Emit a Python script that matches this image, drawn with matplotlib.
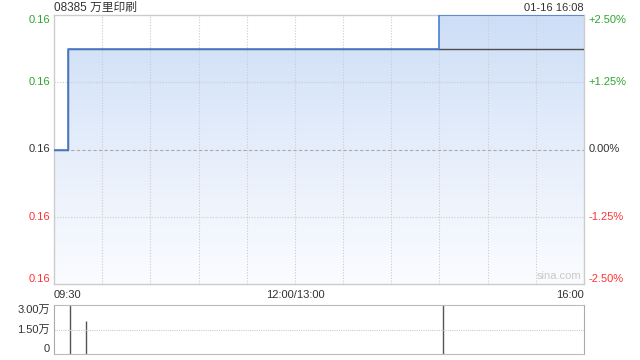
import numpy as np
import matplotlib
matplotlib.use("Agg")
import matplotlib.pyplot as plt
from matplotlib.colors import LinearSegmentedColormap

plt.rcParams['font.family'] = ['Liberation Sans', 'Noto Sans CJK SC', 'DejaVu Sans']

# data
title = "08385 万里印刷"
stamp = "01-16 16:08"
prev_close = 0.160
price_times = ["09:30", "09:39", "14:30", "16:00"]
prices = [0.160, 0.163, 0.164, 0.164]
avg_times = ["09:30", "09:39", "16:00"]
avg_prices = [0.160, 0.163, 0.163]
vol_times = ["09:40", "09:50", "14:32"]
volumes = [32000, 20000, 34000]
x_labels = ["09:30", "12:00/13:00", "16:00"]


def to_min(t):
    h, m = map(int, t.split(":"))
    v = h * 60 + m
    if v <= 12 * 60:
        return v - 570
    return v - 780 + 150


px = [to_min(t) for t in price_times]
ax_x = [to_min(t) for t in avg_times]
vx = [to_min(t) for t in vol_times]

ymin = prev_close * 0.975
ymax = prev_close * 1.025

fig = plt.figure(figsize=(6.4, 3.6), dpi=100)
ax = fig.add_axes([54/640, 1-284/360, 530/640, 269/360])
axv = fig.add_axes([54/640, 1-354/360, 530/640, 49/360])

# gradient fill under price line
poly = ax.fill_between(px, prices, ymin, step="post", facecolor="none", edgecolor="none")
cmap = LinearSegmentedColormap.from_list("blu", ["#fbfcff", "#e6eefb", "#cddef7"])
grad = np.linspace(0, 1, 256).reshape(-1, 1)
im = ax.imshow(grad, extent=[0, 330, ymin, ymax], origin="lower", aspect="auto",
               cmap=cmap, zorder=1)
im.set_clip_path(poly.get_paths()[0], ax.transData)

ax.plot(ax_x, avg_prices, drawstyle="steps-post", color="#4d4d4d", lw=1, zorder=3)
ax.plot(px, prices, drawstyle="steps-post", color="#4a7fd6", lw=1.2, zorder=4)

ax.set_xlim(0, 330)
ax.set_ylim(ymin, ymax)

# grids
for m in range(30, 330, 30):
    ax.axvline(m, color="#cccccc", lw=0.8, ls=(0, (1, 1.5)), zorder=2)
    axv.axvline(m, color="#ffffff", lw=0, zorder=0)
pct = [2.5, 1.25, 0.0, -1.25, -2.5]
levels = [prev_close * (1 + p / 100) for p in pct]
for p, lv in zip(pct, levels):
    if p in (1.25, -1.25):
        ax.axhline(lv, color="#cccccc", lw=0.8, ls=(0, (1, 1.5)), zorder=2)
    elif p == 0:
        ax.axhline(lv, color="#aaaaaa", lw=0.8, ls=(0, (3, 2)), zorder=2)

for s in ax.spines.values():
    s.set_color("#cccccc")
    s.set_linewidth(1)

ax.set_yticks(levels)
ax.set_yticklabels(["%.2f" % v for v in levels])
ax.tick_params(axis="y", length=0, labelsize=8, pad=3)
cols = ["#2ea52e", "#2ea52e", "#333333", "#ff3333", "#ff3333"]
vas = ["top", "center", "center", "center", "bottom"]
for lab, c, va in zip(ax.get_yticklabels(), cols, vas):
    lab.set_color(c)
    lab.set_verticalalignment(va)

ax2 = ax.twinx()
ax2.set_ylim(-2.5, 2.5)
ax2.set_yticks(pct)
ax2.set_yticklabels(["%+.2f%%" % p if p != 0 else "0.00%" for p in pct])
ax2.tick_params(axis="y", length=0, labelsize=8, pad=3)
for lab, c, va in zip(ax2.get_yticklabels(), cols, vas):
    lab.set_color(c)
    lab.set_verticalalignment(va)
for s in ax2.spines.values():
    s.set_visible(False)

ax.set_xticks([0, 150, 330])
ax.set_xticklabels(x_labels)
ax.tick_params(axis="x", length=0, labelsize=8, pad=4, colors="#333333")
for lab, ha in zip(ax.get_xticklabels(), ["left", "center", "right"]):
    lab.set_horizontalalignment(ha)

ax.text(0.995, 0.01, "sina.com", transform=ax.transAxes, ha="right", va="bottom",
        fontsize=8, color="#c8c8c8", zorder=5)

fig.text(54/640, 1-8/360, title, ha="left", va="center", fontsize=8.5, color="#333333")
fig.text(584/640, 1-8/360, stamp, ha="right", va="center", fontsize=8, color="#333333")

# volume panel
axv.vlines(vx, 0, volumes, color="#555555", lw=1)
axv.set_xlim(0, 330)
axv.set_ylim(0, 30000)
axv.axhline(15000, color="#cccccc", lw=0.8, ls=(0, (1, 1)))
axv.spines["top"].set_color("#bbbbbb")
axv.spines["top"].set_linestyle((0, (1, 1)))
axv.spines["bottom"].set_color("#bbbbbb")
axv.spines["bottom"].set_linestyle((0, (1, 1)))
axv.spines["left"].set_color("#aaaaaa")
axv.spines["right"].set_color("#aaaaaa")
axv.set_xticks([])
axv.set_yticks([0, 15000, 30000])
axv.set_yticklabels(["0", "1.50万", "3.00万"])
axv.tick_params(axis="y", length=0, labelsize=8, pad=3, colors="#333333")
for lab, va in zip(axv.get_yticklabels(), ["bottom", "center", "top"]):
    lab.set_verticalalignment(va)

fig.savefig("out.png", dpi=100)
